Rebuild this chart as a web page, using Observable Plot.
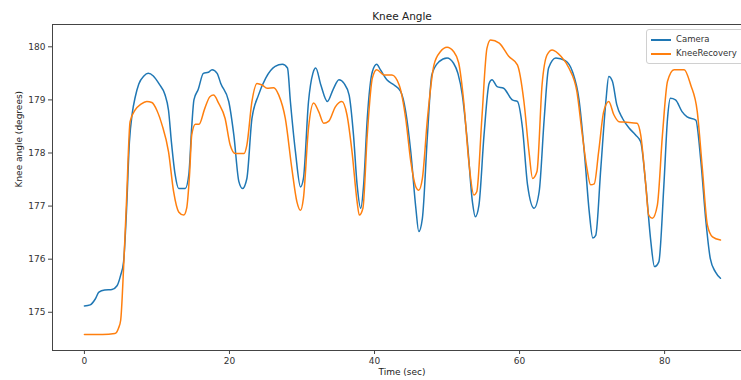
<!DOCTYPE html>
<html><head><meta charset="utf-8">
<script src="https://cdn.jsdelivr.net/npm/d3@7"></script>
<script src="https://cdn.jsdelivr.net/npm/@observablehq/plot@0.6"></script>
<style>
body{margin:0;background:#fff;}
#wrap{position:relative;width:741px;height:380px;overflow:hidden;font-family:"DejaVu Sans",sans-serif;}
#legend{position:absolute;left:646px;top:29px;width:110px;height:33px;border:1px solid #d0d0d0;border-radius:3px;background:rgba(255,255,255,0.85);font-size:8.5px;color:#333;}
#legend .row{position:absolute;left:4px;height:12px;line-height:12px;white-space:nowrap;}
#legend .sw{display:inline-block;width:20px;height:2px;vertical-align:middle;margin-right:5px;}
</style></head>
<body><div id="wrap"></div>
<script>
const title = "Knee Angle";
const xLabel = "Time (sec)";
const yLabel = "Knee angle (degrees)";
const seriesNames = ["Camera", "KneeRecovery"];
const seriesColors = ["#1f77b4", "#ff7f0e"];
const xTicks = [0, 20, 40, 60, 80];
const yTicks = [175, 176, 177, 178, 179, 180];

const cameraT = [0.0,0.8,1.5,2.0,2.8,3.8,4.5,5.0,5.4,5.8,6.2,6.6,7.0,7.5,8.2,8.8,9.5,10.3,11.1,11.6,12.0,12.5,13.0,13.9,14.4,14.8,15.1,15.7,16.4,17.1,17.6,18.3,18.8,19.9,20.6,21.3,21.8,22.4,23.1,24.0,25.0,26.3,27.3,28.0,28.4,29.1,29.8,30.2,30.9,31.5,31.9,32.6,33.5,34.3,35.1,35.8,36.5,37.1,37.6,38.1,38.5,39.0,39.7,40.3,40.8,41.7,42.7,43.6,44.3,45.0,45.7,46.1,46.6,47.3,47.9,48.9,50.0,50.9,51.5,52.1,52.8,53.5,53.9,54.4,55.1,55.8,56.2,56.9,57.8,59.0,59.7,60.4,61.1,62.0,62.7,63.4,64.0,65.0,66.3,67.3,68.2,69.0,69.6,70.1,70.5,71.2,71.9,72.3,72.8,73.4,74.2,75.1,76.0,76.7,77.4,78.1,78.6,79.2,79.9,80.4,80.8,81.5,82.4,83.1,84.3,85.0,85.7,86.3,87.0,87.7];
const cameraV = [175.12,175.14,175.25,175.38,175.42,175.43,175.50,175.70,175.95,176.9,178.2,178.75,179.05,179.3,179.45,179.5,179.45,179.3,179.1,178.8,178.2,177.6,177.33,177.33,177.6,178.5,179.0,179.2,179.5,179.52,179.57,179.5,179.31,178.97,178.34,177.46,177.33,177.52,178.65,179.09,179.41,179.63,179.67,179.6,178.97,178.02,177.36,177.52,178.97,179.5,179.6,179.28,178.97,179.2,179.38,179.31,179.09,178.34,177.40,176.96,177.40,178.65,179.53,179.67,179.57,179.38,179.28,179.16,178.78,178.02,176.96,176.52,176.77,178.34,179.47,179.72,179.79,179.69,179.5,179.1,178.21,177.08,176.80,177.02,178.34,179.31,179.38,179.25,179.22,179.0,178.97,178.47,177.4,176.96,177.27,178.65,179.6,179.79,179.74,179.53,179.0,177.9,176.9,176.4,176.45,177.71,178.97,179.44,179.35,178.91,178.65,178.47,178.34,178.21,177.40,176.33,175.86,175.95,177.40,178.65,179.03,179.0,178.78,178.68,178.62,177.84,176.70,176.01,175.76,175.64];

const kneeT = [0.0,1.0,2.5,4.2,4.7,5.0,5.4,5.8,6.3,7.0,7.8,8.6,9.3,10.0,10.7,11.6,12.3,13.0,13.7,14.1,14.5,14.8,15.3,15.8,16.6,17.3,17.8,18.5,19.4,20.1,20.8,22.0,22.4,23.1,23.8,24.5,25.2,26.1,26.8,27.7,28.6,29.3,29.8,30.2,30.9,31.6,32.3,33.0,33.7,34.6,35.5,36.2,36.9,37.6,37.9,38.4,39.0,39.7,40.3,41.3,42.4,43.4,44.3,45.0,45.7,46.1,46.6,47.3,48.2,49.1,50.0,50.9,51.6,52.3,53.0,53.7,54.1,54.8,55.5,56.0,57.2,58.5,59.7,60.6,61.3,61.8,62.4,63.1,63.8,64.5,65.7,66.8,67.9,68.6,69.3,69.8,70.3,70.9,71.6,72.3,73.0,73.7,74.8,76.2,76.7,77.4,77.8,78.3,79.0,79.7,80.4,81.3,82.7,83.6,84.5,85.2,85.9,86.6,87.7];
const kneeV = [174.58,174.58,174.58,174.60,174.7,174.85,175.83,177.08,178.59,178.81,178.92,178.97,178.95,178.8,178.53,178.02,177.27,176.89,176.83,176.96,177.6,178.34,178.54,178.54,178.84,179.06,179.09,178.94,178.65,178.15,177.99,177.99,178.15,178.97,179.31,179.28,179.22,179.23,179.09,178.65,177.71,177.08,176.92,177.15,178.47,178.94,178.78,178.56,178.6,178.87,178.97,178.72,178.02,177.08,176.83,176.96,178.34,179.41,179.57,179.47,179.47,179.28,178.65,177.84,177.36,177.30,177.52,178.65,179.66,179.91,179.99,179.91,179.70,178.97,177.84,177.21,177.27,178.65,179.97,180.13,180.07,179.82,179.66,178.97,178.02,177.52,177.65,179.28,179.85,179.94,179.82,179.6,179.16,178.4,177.7,177.40,177.42,178.02,178.78,178.97,178.72,178.59,178.58,178.56,178.34,177.40,176.83,176.77,177.02,178.34,179.35,179.57,179.57,179.28,178.78,177.71,176.64,176.42,176.36];

const rows = [
  ...cameraT.map((t, i) => ({t, v: cameraV[i], s: seriesNames[0]})),
  ...kneeT.map((t, i) => ({t, v: kneeV[i], s: seriesNames[1]}))
];

const xDomain = [-4.4, 90.6];
const yDomain = [174.28, 180.42];

const chart = Plot.plot({
  width: 741, height: 380,
  marginLeft: 52, marginRight: 0, marginTop: 24, marginBottom: 30,
  style: {fontFamily: "DejaVu Sans, sans-serif", fontSize: "9px", color: "#333", background: "#fff", overflow: "visible"},
  x: {domain: xDomain},
  y: {domain: yDomain},
  color: {domain: seriesNames, range: seriesColors},
  marks: [
    Plot.ruleY([yDomain[0]], {stroke: "#444", strokeWidth: 1}),
    Plot.ruleY([yDomain[1]], {stroke: "#444", strokeWidth: 1}),
    Plot.ruleX([xDomain[0]], {stroke: "#444", strokeWidth: 1}),
    Plot.axisX({ticks: xTicks, tickSize: 4, tickPadding: 3, tickFormat: d3.format("d"), label: null, stroke: "#444"}),
    Plot.axisY({ticks: yTicks, tickSize: 4, tickPadding: 3, tickFormat: d3.format("d"), label: null, stroke: "#444"}),
    Plot.line(rows, {x: "t", y: "v", z: "s", stroke: "s", strokeWidth: 1.5, curve: "monotone-x"}),
    Plot.text([title], {frameAnchor: "top", dx: 5, dy: -12, fontSize: 10.5, fill: "#222"}),
    Plot.text([xLabel], {frameAnchor: "bottom", dx: 5, dy: 24, fontSize: 9, fill: "#222"}),
    Plot.text([yLabel], {frameAnchor: "left", dx: -33, rotate: -90, fontSize: 9, fill: "#222"})
  ]
});
const wrap = document.getElementById("wrap");
wrap.appendChild(chart);
const leg = document.createElement("div");
leg.id = "legend";
seriesNames.forEach((n, i) => {
  const r = document.createElement("div");
  r.className = "row";
  r.style.top = (3 + i * 14) + "px";
  r.innerHTML = `<span class="sw" style="background:${seriesColors[i]}"></span>${n}`;
  leg.appendChild(r);
});
wrap.appendChild(leg);
</script></body></html>
